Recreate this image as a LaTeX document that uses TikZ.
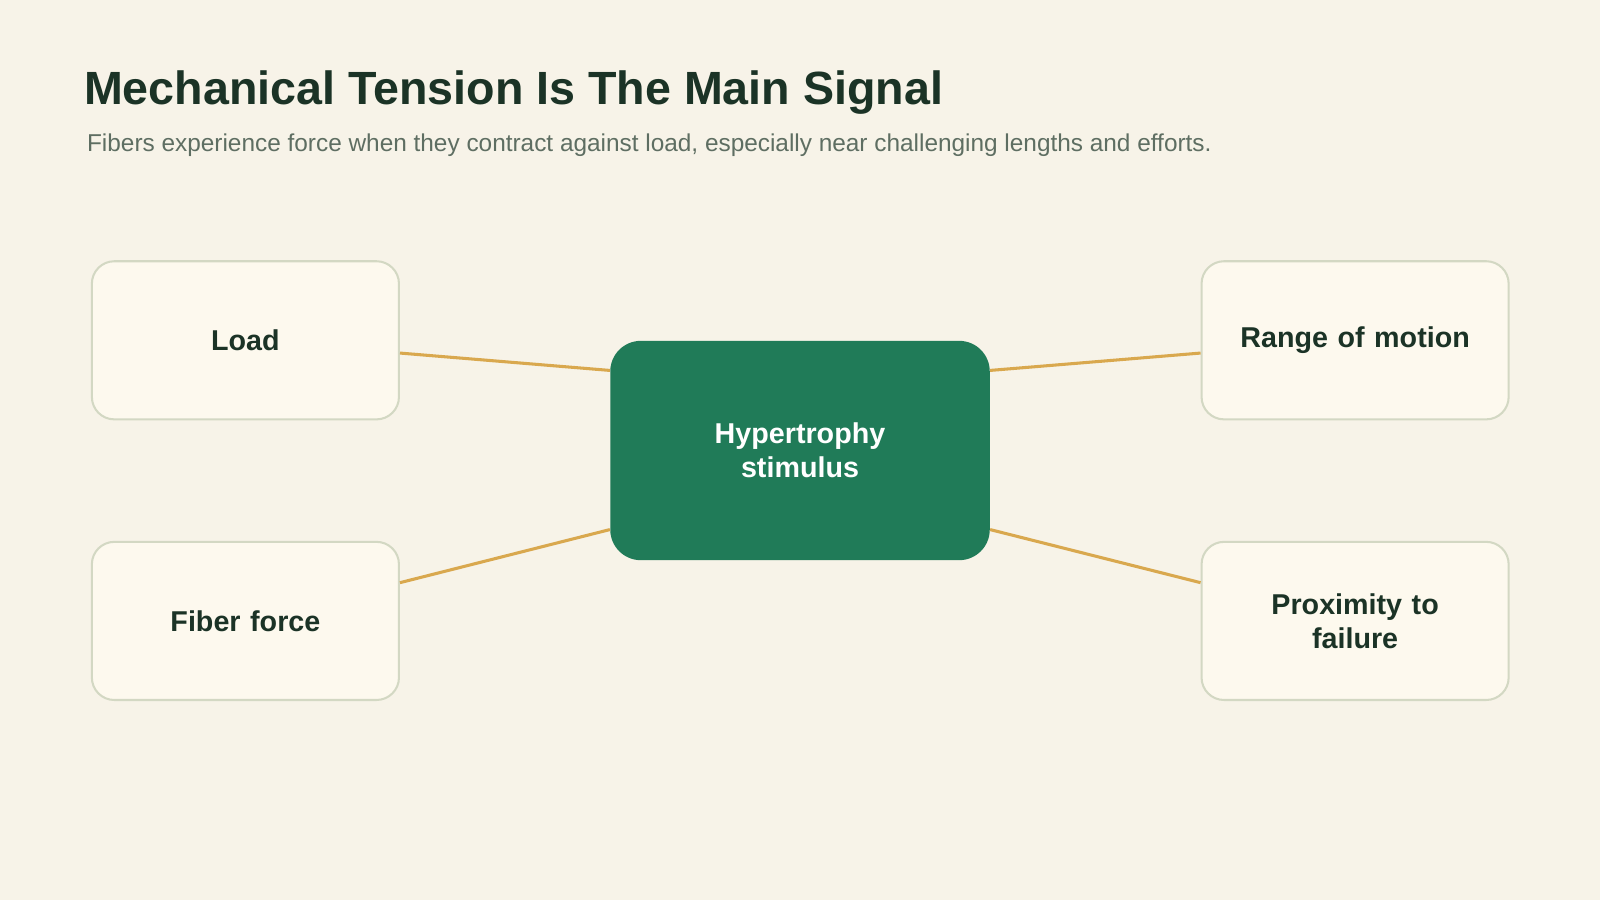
\documentclass[tikz,border=0pt]{standalone}
\usepackage{fontspec}
\setmainfont{Liberation Sans}
\usetikzlibrary{positioning}
\definecolor{bgcol}{HTML}{F7F3E8}
\definecolor{boxcol}{HTML}{FDF9EE}
\definecolor{boxline}{HTML}{D3D8C3}
\definecolor{hubcol}{HTML}{207B58}
\definecolor{linkcol}{HTML}{D9A84E}
\definecolor{titlecol}{HTML}{1B3326}
\definecolor{subcol}{HTML}{5E6E62}

\begin{document}
\begin{tikzpicture}[
    x=0.02cm,y=-0.02cm,
    factor/.style={rectangle,rounded corners=0.44cm,draw=boxline,line width=0.04cm,fill=boxcol,
      minimum width=6.02cm,minimum height=3.1cm,align=center,text width=5.2cm,
      font=\fontsize{16}{19}\selectfont\bfseries,text=titlecol},
    hub/.style={rectangle,rounded corners=0.6cm,fill=hubcol,minimum width=7.44cm,minimum height=4.3cm,
      align=center,font=\fontsize{16}{19}\selectfont\bfseries,text=white},
    link/.style={draw=linkcol,line width=0.06cm}]
    \fill[bgcol] (0,0) rectangle (1568,882);
    \node[anchor=base west,font=\fontsize{26}{30}\selectfont\bfseries,text=titlecol,inner sep=0] (title) at (82,102) {Mechanical Tension Is The Main Signal};
    \node[anchor=base west,font=\fontsize{13.6}{16}\selectfont,text=subcol,inner sep=0] (sub) at (85,148) {Fibers experience force when they contract against load, especially near challenging lengths and efforts.};

    \node[hub] (hyp) at (784,441.5) {Hypertrophy\\stimulus};
    \node[factor] (load) at (240.5,333.5) {Load};
    \node[factor] (range) at (1328,333.5) {Range of motion};
    \node[factor] (fiber) at (240.5,608.5) {Fiber force};
    \node[factor] (prox) at (1328,608.5) {Proximity to\\failure};

    \draw[link] ([yshift=-0.25cm]load.east) -- ([yshift=1.57cm]hyp.west);
    \draw[link] ([yshift=-0.25cm]range.west) -- ([yshift=1.57cm]hyp.east);
    \draw[link] ([yshift=0.75cm]fiber.east) -- ([yshift=-1.55cm]hyp.west);
    \draw[link] ([yshift=0.75cm]prox.west) -- ([yshift=-1.55cm]hyp.east);
\end{tikzpicture}
\end{document}
